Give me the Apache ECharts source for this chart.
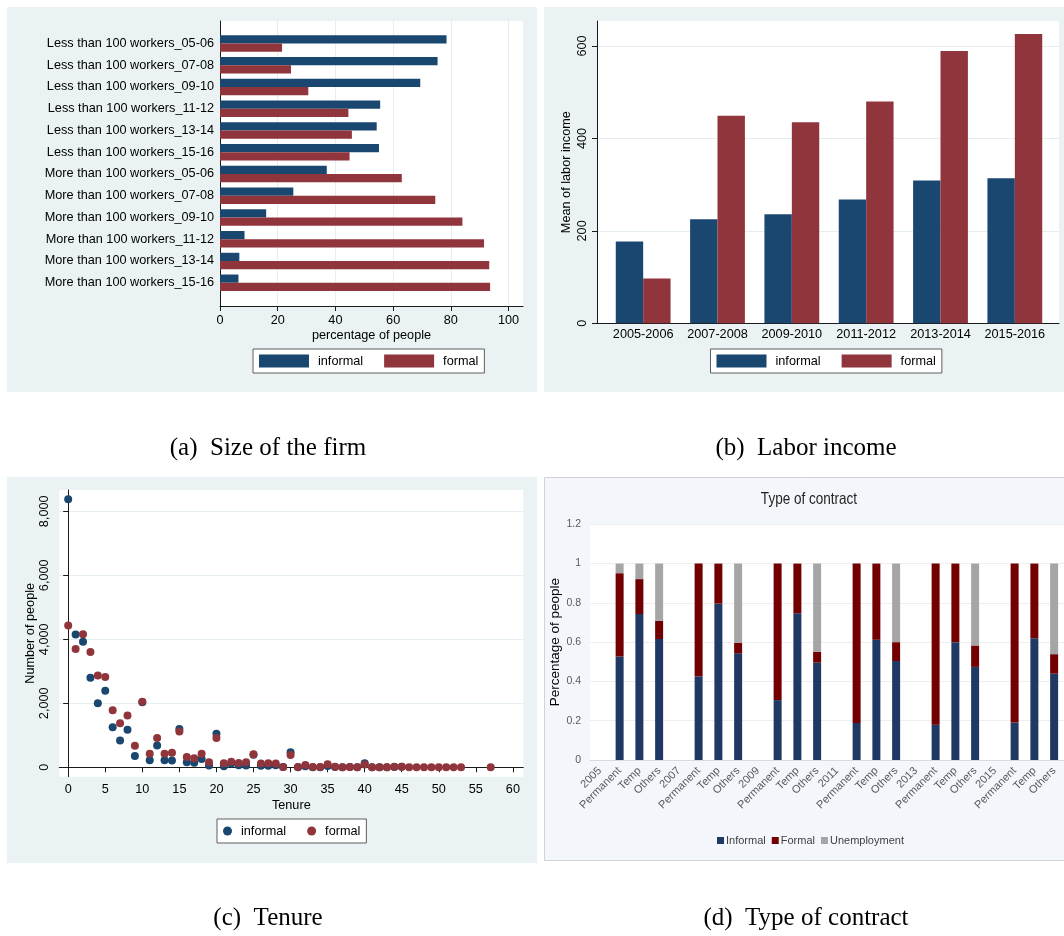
<!DOCTYPE html>
<html>
<head>
<meta charset="utf-8">
<script src="https://cdn.jsdelivr.net/npm/echarts@6/dist/echarts.min.js"></script>
<style>
  html, body { margin: 0; padding: 0; background: #ffffff; }
  #chart { width: 1064px; height: 936px; }
</style>
</head>
<body>
<div id="chart"></div>
<script>
// ---- (a) Size of the firm: share of informal / formal workers (%)
const firmCategories = [
  'Less than 100 workers_05-06', 'Less than 100 workers_07-08', 'Less than 100 workers_09-10',
  'Less than 100 workers_11-12', 'Less than 100 workers_13-14', 'Less than 100 workers_15-16',
  'More than 100 workers_05-06', 'More than 100 workers_07-08', 'More than 100 workers_09-10',
  'More than 100 workers_11-12', 'More than 100 workers_13-14', 'More than 100 workers_15-16'
];
const firmInformal = [78.5, 75.4, 69.4, 55.5, 54.3, 55.1, 37.0, 25.4, 16.0, 8.5, 6.7, 6.4];
const firmFormal   = [21.5, 24.6, 30.6, 44.5, 45.7, 44.9, 63.0, 74.6, 84.0, 91.5, 93.3, 93.6];
const firmTicks = [0, 20, 40, 60, 80, 100];

// ---- (b) Labor income: mean labor income by period
const incomePeriods  = ['2005-2006', '2007-2008', '2009-2010', '2011-2012', '2013-2014', '2015-2016'];
const incomeInformal = [177, 225, 236, 268, 309, 314];
const incomeFormal   = [97, 449, 435, 480, 589, 626];
const incomeTicks = [0, 200, 400, 600];

// ---- (c) Tenure: number of people by years of tenure
const informalTenure = [0, 1, 2, 3, 4, 5, 6, 7, 8, 9, 10, 11, 12, 13, 14, 15, 16, 17, 18, 19, 20, 21, 22,
  23, 24, 25, 26, 27, 28, 29, 30, 31, 32, 33, 34, 35, 36, 37, 38, 39, 40, 41, 42, 43, 44, 45];
const informalCount = [8375, 4150, 3920, 2800, 2000, 2390, 1250, 840, 1170, 355, 2030, 220, 680, 220, 210,
  1200, 160, 140, 260, 55, 1050, 35, 115, 65, 55, 390, 45, 45, 60, 10, 470, 5, 30, 5, 5, 40, 10, 5, 10, 5,
  125, 5, 5, 5, 10, 20];
const formalTenure = [0, 1, 2, 3, 4, 5, 6, 7, 8, 9, 10, 11, 12, 13, 14, 15, 16, 17, 18, 19, 20, 21, 22,
  23, 24, 25, 26, 27, 28, 29, 30, 31, 32, 33, 34, 35, 36, 37, 38, 39, 40, 41, 42, 43, 44, 45, 46, 47, 48,
  49, 50, 51, 52, 53, 57];
const formalCount = [4430, 3700, 4160, 3600, 2870, 2820, 1780, 1375, 1615, 675, 2045, 425, 915, 425, 455,
  1115, 320, 280, 425, 155, 915, 125, 175, 135, 155, 405, 115, 125, 115, 10, 385, 10, 70, 10, 10, 95, 20,
  0, 10, 0, 85, 5, 5, 5, 15, 15, 5, 5, 5, 5, 5, 5, 5, 5, 0];
const tenureXTicks = [0, 5, 10, 15, 20, 25, 30, 35, 40, 45, 50, 55, 60];
const tenureYTicks = [0, 2000, 4000, 6000, 8000];

// ---- (d) Type of contract: share by status within each contract type
const contractLabels = [
  '2005', 'Permanent', 'Temp', 'Others', '2007', 'Permanent', 'Temp', 'Others',
  '2009', 'Permanent', 'Temp', 'Others', '2011', 'Permanent', 'Temp', 'Others',
  '2013', 'Permanent', 'Temp', 'Others', '2015', 'Permanent', 'Temp', 'Others'
];
const contractInformal = [null, 0.527, 0.743, 0.616, null, 0.426, 0.796, 0.543, null, 0.305, 0.747, 0.496,
  null, 0.189, 0.612, 0.504, null, 0.180, 0.600, 0.474, null, 0.191, 0.620, 0.440];
const contractFormal = [null, 0.424, 0.178, 0.093, null, 0.574, 0.204, 0.054, null, 0.695, 0.253, 0.055,
  null, 0.811, 0.388, 0.096, null, 0.820, 0.400, 0.109, null, 0.809, 0.380, 0.099];
const contractUnemployment = [null, 0.049, 0.079, 0.291, null, 0, 0, 0.403, null, 0, 0, 0.449,
  null, 0, 0, 0.400, null, 0, 0, 0.417, null, 0, 0, 0.461];

// ---- styling
const NAVY = '#1a476f';
const MAROON = '#90353b';
const STATA_BG = '#eaf2f3';
const STATA_GRID = '#e4eef0';
const AXIS = '#1a1a1a';
const SANS = '"Liberation Sans", Arial, Helvetica, sans-serif';
const SERIF = '"Liberation Serif", "Times New Roman", Times, serif';
const FS = 12.7;

const stataText = { fontFamily: SANS, fontSize: FS, color: '#000' };
const axisLine = { show: true, lineStyle: { color: AXIS, width: 1 } };
const hiddenValue = (gridIndex, min, max) => ({
  gridIndex, type: 'value', min, max, show: false
});

const zip = (xs, ys) => xs.map((x, i) => [x, ys[i]]);

const stataLegend = (left, top, names, icon, w, h) => ({
  left, top, orient: 'horizontal', data: names, icon,
  itemWidth: w, itemHeight: h, itemGap: 21,
  padding: [5.5, 6], borderColor: '#5e5e5e', borderWidth: 1, borderRadius: 0,
  backgroundColor: '#ffffff', selectedMode: false,
  textStyle: Object.assign({ padding: [0, 0, 0, 4] }, stataText)
});

const caption = (text, x, top) => ({
  text, left: x, top, textAlign: 'center', padding: 0,
  textStyle: { fontFamily: SERIF, fontSize: 25, fontWeight: 'normal', color: '#000' }
});

const chart = echarts.init(document.getElementById('chart'), null, { renderer: 'canvas' });

const option = {
  animation: false,
  backgroundColor: '#ffffff',
  graphic: {
    elements: [
      { type: 'rect', z: -100, shape: { x: 7, y: 7, width: 530, height: 385 }, style: { fill: STATA_BG } },
      { type: 'rect', z: -100, shape: { x: 544, y: 7, width: 520, height: 385 }, style: { fill: STATA_BG } },
      { type: 'rect', z: -100, shape: { x: 7, y: 477, width: 530, height: 386 }, style: { fill: STATA_BG } },
      { type: 'rect', z: -100, shape: { x: 544.5, y: 477.5, width: 525, height: 383 },
        style: { fill: '#f3f7fb', stroke: '#d3d3d3', lineWidth: 1 } },
      // chart title of the contract panel, set in a condensed face
      { type: 'text', z: 10, x: 809, y: 499, scaleX: 0.82,
        style: { text: 'Type of contract', fill: '#1f1f1f', font: '16.5px ' + SANS,
          align: 'center', verticalAlign: 'middle' } }
    ]
  },
  title: [
    caption('(a)  Size of the firm', 268, 436),
    caption('(b)  Labor income', 806, 436),
    caption('(c)  Tenure', 268, 906),
    caption('(d)  Type of contract', 806, 906)
  ],
  legend: [
    stataLegend(253, 349, ['informal', 'formal'], 'rect', 50, 13),
    stataLegend(710.5, 349, ['informal', 'formal'], 'rect', 50, 13),
    stataLegend(217, 819, ['informal', 'formal'], 'circle', 9, 9),
    {
      left: 717, top: 835, data: ['Informal', 'Formal', 'Unemployment'], icon: 'rect',
      itemWidth: 7, itemHeight: 7, itemGap: 6, selectedMode: false, padding: 0,
      textStyle: { fontFamily: SANS, fontSize: 11, color: '#404040', padding: [0, 0, 0, -3] }
    }
  ],
  grid: [
    // (a) plot frame and bar band area
    { left: 220, top: 21, width: 303, height: 285, show: true, backgroundColor: '#fff', borderWidth: 0 },
    { left: 220, top: 32.6, width: 303, height: 261 },
    // (b) plot frame and bar band area
    { left: 597, top: 21, width: 462, height: 302.3, show: true, backgroundColor: '#fff', borderWidth: 0 },
    { left: 606, top: 21, width: 446, height: 302.3 },
    // (c) scatter
    { left: 59.3, top: 490, width: 464, height: 286.7, show: true, backgroundColor: '#fff', borderWidth: 0 },
    // (d) stacked bars
    { left: 590, top: 524.3, width: 475, height: 235.7, show: true, backgroundColor: '#fff', borderWidth: 0 }
  ],
  xAxis: [
    {
      gridIndex: 0, type: 'value', min: 0, max: 105,
      axisLine,
      axisTick: { show: true, customValues: firmTicks, length: 5, lineStyle: { color: AXIS } },
      axisLabel: Object.assign({ customValues: firmTicks, margin: 8 }, stataText),
      splitLine: { show: true, lineStyle: { color: STATA_GRID, width: 1 } },
      name: 'percentage of people', nameLocation: 'middle', nameGap: 23, nameTextStyle: stataText
    },
    hiddenValue(1, 0, 105),
    {
      gridIndex: 2, type: 'value', min: 0, max: 1,
      axisLine, axisTick: { show: false }, axisLabel: { show: false }, splitLine: { show: false }
    },
    {
      gridIndex: 3, type: 'category', data: incomePeriods,
      axisLine: { show: false }, axisTick: { show: false },
      axisLabel: Object.assign({ interval: 0, margin: 5 }, stataText)
    },
    {
      gridIndex: 4, type: 'value', min: -1.2, max: 61.4,
      axisLine,
      axisTick: { show: true, customValues: tenureXTicks, length: 5, lineStyle: { color: AXIS } },
      axisLabel: Object.assign({ customValues: tenureXTicks, margin: 6 }, stataText),
      splitLine: { show: false },
      name: 'Tenure', nameLocation: 'middle', nameGap: 22, nameTextStyle: stataText
    },
    {
      gridIndex: 5, type: 'category', data: contractLabels.map((_, i) => String(i)),
      axisLine: { show: true, lineStyle: { color: '#d9d9d9' } }, axisTick: { show: false },
      axisLabel: {
        interval: 0, rotate: 45, margin: 9, fontFamily: SANS, fontSize: 11, color: '#595959',
        formatter: (v, i) => contractLabels[i]
      }
    }
  ],
  yAxis: [
    {
      gridIndex: 0, type: 'value', min: 0, max: 1,
      axisLine, axisTick: { show: false }, axisLabel: { show: false }, splitLine: { show: false }
    },
    {
      gridIndex: 1, type: 'category', data: firmCategories, inverse: true,
      axisLine: { show: false }, axisTick: { show: false },
      axisLabel: Object.assign({ margin: 6 }, stataText)
    },
    {
      gridIndex: 2, type: 'value', min: 0, max: 654,
      axisLine,
      axisTick: { show: true, customValues: incomeTicks, length: 5, lineStyle: { color: AXIS } },
      axisLabel: Object.assign({ customValues: incomeTicks, rotate: 90, margin: 8 }, stataText),
      splitLine: { show: true, lineStyle: { color: STATA_GRID, width: 1 } },
      name: 'Mean of labor income', nameLocation: 'middle', nameGap: 24, nameRotate: 90,
      nameTextStyle: stataText
    },
    hiddenValue(3, 0, 654),
    {
      gridIndex: 4, type: 'value', min: -294, max: 8666,
      axisLine,
      axisTick: { show: true, customValues: tenureYTicks, length: 5, lineStyle: { color: AXIS } },
      axisLabel: Object.assign({
        customValues: tenureYTicks, rotate: 90, margin: 8,
        formatter: v => Number(v).toLocaleString('en-US')
      }, stataText),
      splitLine: { show: true, lineStyle: { color: STATA_GRID, width: 1 } },
      name: 'Number of people', nameLocation: 'middle', nameGap: 22, nameRotate: 90,
      nameTextStyle: stataText
    },
    {
      gridIndex: 5, type: 'value', min: 0, max: 1.2, interval: 0.2,
      axisLine: { show: false }, axisTick: { show: false },
      axisLabel: {
        margin: 9, fontFamily: SANS, fontSize: 10.5, color: '#595959',
        formatter: v => String(Math.round(v * 10) / 10)
      },
      splitLine: { show: true, lineStyle: { color: '#eeeeee', width: 1 } },
      name: 'Percentage of people', nameLocation: 'middle', nameGap: 14, nameRotate: 90,
      nameTextStyle: { fontFamily: SANS, fontSize: 13.5, color: '#000' }
    }
  ],
  series: [
    // (a)
    { name: 'informal', type: 'bar', xAxisIndex: 1, yAxisIndex: 1, data: firmInformal,
      barWidth: 8.2, barGap: '0%', itemStyle: { color: NAVY } },
    { name: 'formal', type: 'bar', xAxisIndex: 1, yAxisIndex: 1, data: firmFormal,
      barWidth: 8.2, barGap: '0%', itemStyle: { color: MAROON } },
    // (b)
    { name: 'informal', type: 'bar', xAxisIndex: 3, yAxisIndex: 3, data: incomeInformal,
      barWidth: 27.4, barGap: '0%', itemStyle: { color: NAVY } },
    { name: 'formal', type: 'bar', xAxisIndex: 3, yAxisIndex: 3, data: incomeFormal,
      barWidth: 27.4, barGap: '0%', itemStyle: { color: MAROON } },
    // (c)
    { name: 'informal', type: 'scatter', xAxisIndex: 4, yAxisIndex: 4, data: zip(informalTenure, informalCount),
      symbol: 'circle', symbolSize: 8, itemStyle: { color: NAVY, opacity: 1 } },
    { name: 'formal', type: 'scatter', xAxisIndex: 4, yAxisIndex: 4, data: zip(formalTenure, formalCount),
      symbol: 'circle', symbolSize: 8, itemStyle: { color: MAROON, opacity: 1 } },
    // (d)
    { name: 'Informal', type: 'bar', stack: 'contract', xAxisIndex: 5, yAxisIndex: 5,
      data: contractInformal, barWidth: 8, itemStyle: { color: '#203864' } },
    { name: 'Formal', type: 'bar', stack: 'contract', xAxisIndex: 5, yAxisIndex: 5,
      data: contractFormal, barWidth: 8, itemStyle: { color: '#730000' } },
    { name: 'Unemployment', type: 'bar', stack: 'contract', xAxisIndex: 5, yAxisIndex: 5,
      data: contractUnemployment, barWidth: 8, itemStyle: { color: '#a5a5a5' } }
  ]
};

chart.setOption(option);
</script>
</body>
</html>
